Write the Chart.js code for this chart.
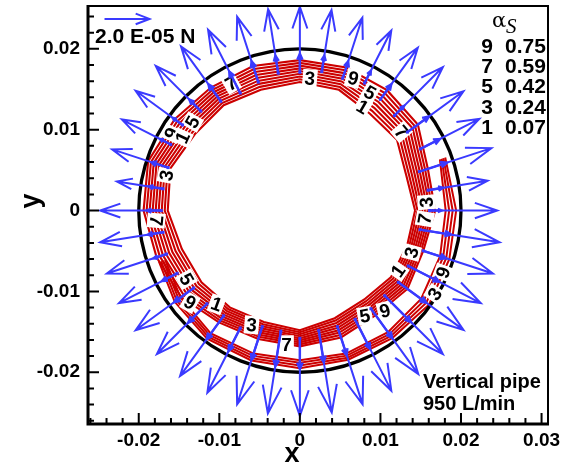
<!DOCTYPE html>
<html>
<head>
<meta charset="utf-8">
<script src="https://cdn.jsdelivr.net/npm/chart.js@4.4.1/dist/chart.umd.min.js"></script>
<style>
  html, body { margin: 0; padding: 0; background: #fff; }
  #wrap { width: 567px; height: 464px; }
</style>
</head>
<body>
<div id="wrap"><canvas id="c" width="567" height="464"></canvas></div>
<script>
// ---- Axes ----
const xRange = [-0.0263, 0.0308];
const yRange = [-0.0264, 0.0253];
const xTickValues = [-0.02, -0.01, 0, 0.01, 0.02, 0.03];
const yTickValues = [-0.02, -0.01, 0, 0.01, 0.02];
const minorStep = 0.002;

// ---- Pipe wall (m) ----
const pipeRadius = 0.02;

// ---- Wall force vectors: polar angle (deg), tail radius, tip radius (m) ----
const arrowAngle = [0, 9, 18, 27, 36, 45, 54, 63, 72, 81, 90, 99, 108, 117, 126, 135, 144, 153, 162, 171,
                    180, 189, 198, 207, 216, 225, 234, 243, 252, 261, 270, 279, 288, 297, 306, 315, 324, 333, 342, 351];
const arrowTailR = [0.0161, 0.0161, 0.0156, 0.0168, 0.0165, 0.0166, 0.0170, 0.0177, 0.0172, 0.0174,
                    0.0171, 0.0172, 0.0167, 0.0163, 0.0167, 0.0174, 0.0180, 0.0180, 0.0172, 0.0172,
                    0.0172, 0.0172, 0.0174, 0.0171, 0.0163, 0.0163, 0.0161, 0.0163, 0.0151, 0.0151,
                    0.0158, 0.0150, 0.0151, 0.0151, 0.0150, 0.0149, 0.0151, 0.0151, 0.0161, 0.0151];
const arrowTipR  = [0.0245, 0.0236, 0.0250, 0.0250, 0.0251, 0.0251, 0.0249, 0.0250, 0.0251, 0.0251,
                    0.0252, 0.0252, 0.0252, 0.0251, 0.0251, 0.0253, 0.0252, 0.0248, 0.0245, 0.0230,
                    0.0248, 0.0251, 0.0252, 0.0252, 0.0252, 0.0251, 0.0253, 0.0253, 0.0252, 0.0254,
                    0.0254, 0.0253, 0.0252, 0.0250, 0.0250, 0.0251, 0.0251, 0.0252, 0.0252, 0.0251];
// Second (smaller) force component from the same points: tip radius (m)
const minorTipR  = [0.0176, 0.0180, 0.0192, 0.0195, 0.0198, 0.0183, 0.0193, 0.0194, 0.0194, 0.0194,
                    0.0194, 0.0194, 0.0194, 0.0193, 0.0193, 0.0194, 0.0195, 0.0195, 0.0194, 0.0190,
                    0.0190, 0.0191, 0.0191, 0.0192, 0.0193, 0.0196, 0.0197, 0.0195, 0.0194, 0.0195,
                    0.0196, 0.0190, 0.0188, 0.0192, 0.0195, 0.0195, 0.0194, 0.0194, 0.0191, 0.0190];

// Reference vector: 2.0 E-05 N
const refVectorLabel = '2.0 E-05 N';
const refVectorLength = 0.00559;

// ---- Gas fraction contour band: angle (deg), inner / outer edge radius (m) ----
const bandAngle = [0, 18, 36, 54, 72, 90, 108, 126, 144, 162, 180, 198, 216, 234, 252, 270, 288, 306, 324, 342];
const bandInner = [0.0143, 0.0139, 0.0149, 0.0148, 0.0157, 0.0159, 0.0157, 0.0161, 0.0161, 0.0169,
                   0.0164, 0.0154, 0.0151, 0.0148, 0.0145, 0.0148, 0.0140, 0.0136, 0.0140, 0.0140];
const bandOuter = [0.0168, 0.0167, 0.0181, 0.0184, 0.0186, 0.0186, 0.0188, 0.0188, 0.0192, 0.0198,
                   0.0194, 0.0187, 0.0182, 0.0171, 0.0167, 0.0168, 0.0165, 0.0160, 0.0165, 0.0161];
// Thin near-wall band on the lower right side
const wallAngle = [20, 0, -18, -36, -54, -72, -90, -108, -126, -144, -160];
const wallInner = [0.0185, 0.0181, 0.0183, 0.0186, 0.0186, 0.0186, 0.0185, 0.0186, 0.0188, 0.0183, 0.0178];
const wallOuter = [0.0192, 0.0194, 0.0195, 0.0198, 0.0195, 0.0194, 0.0195, 0.0195, 0.0196, 0.0192, 0.0186];

const contourLevels = [1, 2, 3, 4, 5, 6, 7, 8, 9];
const wallLevels = [1, 3, 5, 7];

// Level legend
const legendLevels = [9, 7, 5, 3, 1];
const legendValues = ['0.75', '0.59', '0.42', '0.24', '0.07'];

// Contour labels (m) and text angle (deg)
const labelText = ['7', '3', '9', '5', '1', '7', '5', '9', '1', '3', '7', '5', '9', '1', '3', '7', '5', '9', '1', '3', '7', '3', '9', '3'];
const labelX = [-0.00853, 0.00124, 0.00661, 0.00869, 0.00778, 0.01262, -0.01332, -0.01592, -0.01456, -0.01654,
                -0.01783, -0.01406, -0.01365, -0.01034, -0.00599, -0.00165, 0.00807, 0.01055, 0.01220, 0.01386,
                0.01551, 0.01572, 0.01778, 0.01675];
const labelY = [0.01572, 0.01634, 0.01634, 0.01456, 0.01282, 0.00972, 0.01096, 0.00952, 0.00902, 0.00434,
                -0.00124, -0.00848, -0.01138, -0.01158, -0.01415, -0.01654, -0.01303, -0.01241, -0.00745, -0.00518,
                -0.00103, 0.00103, -0.00766, -0.01034];
const labelAngle = [-30, 5, 15, 30, 30, 50, -60, -65, -65, -80, 95, 60, 30, 20, 5, 0, -10, -15, -55, -75, -80, -95, -70, -55];

const RED = '#cc0000';
const BLUE = '#3a3aff';
const SANS = "'Liberation Sans', Arial, Helvetica, sans-serif";

const rad = d => d * Math.PI / 180;

// One polyline per contour level, placed across the band
function bandLine(angles, inner, outer, frac, closed) {
  const pts = angles.map((a, i) => {
    const r = inner[i] + (outer[i] - inner[i]) * frac;
    return { x: r * Math.cos(rad(a)), y: r * Math.sin(rad(a)) };
  });
  if (closed) pts.push(pts[0]);
  return pts;
}

const datasets = [];
contourLevels.forEach((lv, k) => {
  datasets.push({
    data: bandLine(bandAngle, bandInner, bandOuter, k / (contourLevels.length - 1), true),
    showLine: true, pointRadius: 0, borderColor: RED, borderWidth: 2.1, tension: 0
  });
});
wallLevels.forEach((lv, k) => {
  datasets.push({
    data: bandLine(wallAngle, wallInner, wallOuter, k / (wallLevels.length - 1), false),
    showLine: true, pointRadius: 0, borderColor: RED, borderWidth: 2, tension: 0
  });
});

function arrow(ctx, x0, y0, x1, y1, headLen, headDeg) {
  const ang = Math.atan2(y1 - y0, x1 - x0);
  const a = rad(headDeg);
  ctx.beginPath();
  ctx.moveTo(x0, y0);
  ctx.lineTo(x1, y1);
  ctx.moveTo(x1 - headLen * Math.cos(ang - a), y1 - headLen * Math.sin(ang - a));
  ctx.lineTo(x1, y1);
  ctx.lineTo(x1 - headLen * Math.cos(ang + a), y1 - headLen * Math.sin(ang + a));
  ctx.stroke();
}

const overlay = {
  id: 'overlay',
  afterDatasetsDraw(chart) {
    const { ctx, chartArea: a, scales: { x, y } } = chart;
    const px = v => x.getPixelForValue(v);
    const py = v => y.getPixelForValue(v);

    ctx.save();
    ctx.beginPath();
    ctx.rect(a.left, a.top, a.right - a.left, a.bottom - a.top);
    ctx.clip();

    // pipe wall
    ctx.beginPath();
    ctx.ellipse(px(0), py(0), px(pipeRadius) - px(0), py(0) - py(pipeRadius), 0, 0, Math.PI * 2);
    ctx.lineWidth = 3.3;
    ctx.strokeStyle = '#000';
    ctx.stroke();

    // contour labels
    ctx.font = 'bold 19px ' + SANS;
    ctx.textAlign = 'center';
    ctx.textBaseline = 'middle';
    labelText.forEach((t, i) => {
      ctx.save();
      ctx.translate(px(labelX[i]), py(labelY[i]));
      ctx.rotate(rad(labelAngle[i]));
      const w = ctx.measureText(t).width;
      ctx.fillStyle = '#fff';
      ctx.fillRect(-w / 2 - 2, -9, w + 4, 18);
      ctx.fillStyle = '#000';
      ctx.fillText(t, 0, 1);
      ctx.restore();
    });

    // force vectors
    ctx.strokeStyle = BLUE;
    ctx.fillStyle = BLUE;
    ctx.lineWidth = 2;
    ctx.lineJoin = 'miter';
    arrowAngle.forEach((deg, i) => {
      const c = Math.cos(rad(deg)), s = Math.sin(rad(deg));
      const x0 = px(arrowTailR[i] * c), y0 = py(arrowTailR[i] * s);
      const x1 = px(arrowTipR[i] * c), y1 = py(arrowTipR[i] * s);
      const len = Math.hypot(x1 - x0, y1 - y0);
      arrow(ctx, x0, y0, x1, y1, len * 0.35, 19);
      // smaller component from the same point
      const x2 = px(minorTipR[i] * c), y2 = py(minorTipR[i] * s);
      const len2 = Math.hypot(x2 - x0, y2 - y0);
      ctx.lineWidth = 2.4;
      arrow(ctx, x0, y0, x2, y2, Math.min(7, len2 * 0.35), 24);
      ctx.lineWidth = 2;
      ctx.fillRect(x0 - 1.5, y0 - 1.5, 3, 3);
    });

    // reference vector
    const rx = -0.02425, ry = 0.0237;
    const rlen = px(rx + refVectorLength) - px(rx);
    arrow(ctx, px(rx), py(ry), px(rx + refVectorLength), py(ry), rlen * 0.33, 21);
    ctx.restore();

    // frame
    ctx.save();
    ctx.strokeStyle = '#000';
    ctx.lineWidth = 2;
    ctx.strokeRect(a.left, a.top, a.right - a.left, a.bottom - a.top);
    ctx.lineWidth = 3;
    ctx.beginPath();
    ctx.moveTo(a.left, a.top - 1); ctx.lineTo(a.left, a.bottom);
    ctx.lineTo(a.right + 1, a.bottom);
    ctx.stroke();

    // inward ticks
    ctx.lineWidth = 2;
    ctx.beginPath();
    for (let i = Math.ceil(yRange[0] / minorStep); i <= Math.floor(yRange[1] / minorStep); i++) {
      const yy = py(i * minorStep);
      const len = (i % 5 === 0) ? 11 : 6;
      ctx.moveTo(a.left, yy); ctx.lineTo(a.left + len, yy);
    }
    for (let i = Math.ceil(xRange[0] / minorStep); i <= Math.floor(xRange[1] / minorStep); i++) {
      const xx = px(i * minorStep);
      const len = (i % 5 === 0) ? 11 : 6;
      ctx.moveTo(xx, a.bottom); ctx.lineTo(xx, a.bottom - len);
    }
    ctx.stroke();

    // reference vector caption
    ctx.fillStyle = '#000';
    ctx.textAlign = 'left';
    ctx.textBaseline = 'alphabetic';
    ctx.font = 'bold 21px ' + SANS;
    ctx.fillText(refVectorLabel, 95, 43);

    // level legend
    ctx.font = '21px "DejaVu Serif", serif';
    ctx.fillText('\u03B1', 492, 27);
    ctx.font = 'italic 21px "Liberation Serif", "Times New Roman", serif';
    ctx.fillText('S', 506, 33);
    ctx.font = 'bold 21px ' + SANS;
    legendLevels.forEach((lv, i) => {
      const base = 53 + i * 20.2;
      ctx.textAlign = 'center';
      ctx.fillText(String(lv), 487, base);
      ctx.textAlign = 'left';
      ctx.fillText(legendValues[i], 505, base);
    });

    // case caption
    ctx.font = 'bold 20px ' + SANS;
    ctx.textAlign = 'left';
    ctx.fillText('Vertical pipe', 423, 388);
    ctx.fillText('950 L/min', 423, 410);

    // axis titles
    ctx.font = 'bold 27px ' + SANS;
    ctx.textAlign = 'center';
    ctx.fillText('x', 292, 462);
    ctx.save();
    ctx.translate(39, 201);
    ctx.rotate(-Math.PI / 2);
    ctx.fillText('y', 0, 0);
    ctx.restore();
    ctx.restore();
  }
};

const fmt = v => String(Math.round(v * 100) / 100);

new Chart(document.getElementById('c'), {
  type: 'scatter',
  data: { datasets },
  options: {
    responsive: false,
    animation: false,
    events: [],
    layout: { padding: { top: 6, right: 19, left: 0, bottom: 0 } },
    plugins: { legend: { display: false }, tooltip: { enabled: false } },
    scales: {
      x: {
        type: 'linear', min: xRange[0], max: xRange[1],
        afterFit: s => { s.height = 40; s.paddingLeft = 0; s.paddingRight = 0; },
        afterBuildTicks: s => { s.ticks = xTickValues.map(v => ({ value: v })); },
        ticks: { color: '#000', font: { family: SANS, size: 19, weight: 'bold' }, padding: 5,
                 maxRotation: 0, autoSkip: false, callback: fmt },
        grid: { display: false, drawTicks: false },
        border: { display: false }
      },
      y: {
        type: 'linear', min: yRange[0], max: yRange[1],
        afterFit: s => { s.width = 88; s.paddingTop = 0; s.paddingBottom = 0; },
        afterBuildTicks: s => { s.ticks = yTickValues.map(v => ({ value: v })); },
        ticks: { color: '#000', font: { family: SANS, size: 19, weight: 'bold' }, padding: 8,
                 autoSkip: false, callback: fmt },
        grid: { display: false, drawTicks: false },
        border: { display: false }
      }
    }
  },
  plugins: [overlay]
});
</script>
</body>
</html>
